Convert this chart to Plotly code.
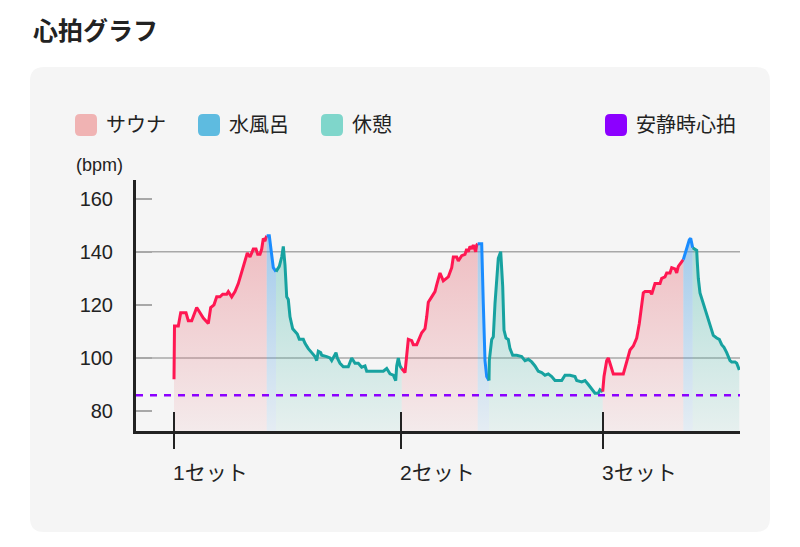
import plotly.graph_objects as go

# ---------------- data ----------------
# x: elapsed time (units of 10 s) from start of set 1, y: heart rate (bpm)
sauna1_x = [0, 0.5, 4.3, 6.7, 12, 14.3, 17.7, 20, 22.7, 26, 29.3, 34.3, 36.7, 40, 42.7, 46, 48.7, 52.7, 54.3, 57.7, 61, 64.3, 67.7, 71, 73.3, 76, 79.3, 82, 83.7, 86, 87.7, 89.3, 91, 92.7]
sauna1_y = [92, 112, 112, 117, 117, 114, 114, 116, 119, 117, 115, 113, 119, 120, 123, 123, 124, 124, 125, 123, 125, 128, 132.5, 137, 139.5, 138, 141, 141, 139, 139, 141, 145, 144, 146]
cold1_x = [92.7, 95.3, 99.3, 102]
cold1_y = [146, 146, 134, 132.5]
rest1_x = [102, 105.3, 107.7, 109.3, 111, 112.7, 114.3, 116, 118.7, 121, 123.3, 125.3, 129.3, 131, 134.3, 137.7, 141, 142.7, 144.3, 146.7, 147.7, 152.7, 156, 157.7, 162, 163.3, 166, 169.3, 174.3, 177.7, 181, 184.3, 187.7, 191, 192.7, 209.3, 212.7, 216, 219.3, 221.7, 222.7, 224.3, 226, 227.7]
rest1_y = [132.5, 134.5, 138, 142, 135, 123, 122, 115.5, 111, 110, 109, 107, 107, 105.5, 103.5, 102, 100.5, 99, 102.5, 102, 101, 100.5, 100, 99, 102, 100, 98, 96.7, 96.7, 100, 98, 98, 96.5, 97, 95, 95, 96, 94, 93.5, 91.5, 97, 100, 97, 96]
sauna2_x = [227.7, 231, 234.3, 237.7, 239.3, 242.7, 247.7, 251, 252.7, 254.3, 257.7, 261, 262.7, 266, 269.3, 274.3, 277.7, 279.3, 282.7, 284.3, 287.7, 291, 292.7, 294.3, 296, 297.7, 299.3, 301.7, 302.7, 303.7]
sauna2_y = [96, 94.5, 107, 106.5, 105, 105, 109.5, 111, 115.5, 121, 123, 125, 127.5, 132, 129, 130.5, 134, 138, 138, 136.5, 138.5, 139, 141, 140, 142, 141, 142.5, 140, 142.5, 143]
cold2_x = [303.7, 307.7, 309.3, 311, 312.7, 315]
cold2_y = [143, 143, 120.5, 99, 93, 91.5]
rest2_x = [315, 315.3, 317.7, 319.3, 321, 322.7, 324.3, 326.7, 328.7, 330, 332, 334.3, 336, 338.7, 342.7, 347.7, 351, 354.3, 357.7, 361, 364.3, 367.7, 371, 374.3, 377.7, 381, 387.7, 391, 396, 401, 402.7, 407.7, 411, 414.3, 417.7, 421, 424.3, 426, 428.7]
rest2_y = [91.5, 99, 107, 108, 120.5, 130.5, 137.5, 140, 127, 110.5, 107.5, 107, 103.5, 101, 101, 100.5, 99, 99.5, 98.5, 97, 95, 94.5, 93.5, 94, 93, 91.5, 91.5, 93.5, 93.5, 93, 91.5, 91, 91.5, 90, 88.5, 86.7, 86.7, 88, 87.3]
sauna3_x = [428.7, 430, 432.7, 434.3, 436, 439.3, 449.3, 452, 456, 459.3, 462.7, 465.3, 467.7, 469.3, 471, 476, 477.7, 479.3, 481, 486, 487.7, 491, 492.7, 496, 497.7, 501, 502.7, 504.3, 506, 507.7, 509.3]
sauna3_y = [87.3, 93, 99, 100, 98, 94, 94, 98, 103, 104.5, 107.5, 113, 119, 124.5, 125, 125, 124, 126, 128, 128, 130, 130.5, 132, 132, 134, 133.5, 132, 134.5, 135.5, 136.5, 137]
cold3_x = [509.3, 513.3, 515.3, 516.7, 517.7, 518.7]
cold3_y = [137, 142, 144.5, 145, 143, 141.5]
rest3_x = [518.7, 521, 522.7, 523.3, 524.3, 526, 529.3, 532.7, 536, 539.3, 542.7, 545.3, 547.7, 550, 552.7, 556, 557.7, 561, 562.7, 565.3]
rest3_y = [141.5, 141, 140.5, 136, 130, 124.5, 120.5, 116, 112, 108.5, 107.5, 107, 105, 104, 102, 99, 98.5, 98.5, 98, 95.5]

resting_hr = 86
set_ticks = [0, 227, 429]
set_labels = ["1セット", "2セット", "3セット"]
y_ticks = [80, 100, 120, 140, 160]
grid_values = [100, 140]
legend_names = ["サウナ", "水風呂", "休憩", "安静時心拍"]
legend_colors = ["#f0b3b3", "#5ebbe0", "#7fd6cb", "#8c00ff"]

# ---------------- style ----------------
W, H = 800, 547
ML, MR, MT, MB = 136, 60, 180, 116
PW, PH = W - ML - MR, H - MT - MB
X_RANGE = [-38, 566]
Y_RANGE = [72.5, 167]
FONT = "Liberation Sans, Noto Sans CJK JP, sans-serif"
TXT = "#222222"

def pxx(px):
    return (px - ML) / PW

def pxy(py):
    return (H - MB - py) / PH

def rrect(x0, y0, x1, y1, r):
    def P(x, y):
        return f"{pxx(x):.5f},{pxy(y):.5f}"
    return (f"M{P(x0 + r, y0)} L{P(x1 - r, y0)} Q{P(x1, y0)} {P(x1, y0 + r)} "
            f"L{P(x1, y1 - r)} Q{P(x1, y1)} {P(x1 - r, y1)} L{P(x0 + r, y1)} "
            f"Q{P(x0, y1)} {P(x0, y1 - r)} L{P(x0, y0 + r)} Q{P(x0, y0)} {P(x0 + r, y0)} Z")

phase_style = {
    "sauna": dict(line="#ff1752", rgb="230,110,120", a0=0.08, a1=0.42),
    "cold": dict(line="#1a8cff", rgb="80,160,225", a0=0.10, a1=0.50),
    "rest": dict(line="#17a2a0", rgb="60,180,165", a0=0.08, a1=0.40),
}

phases = [
    ("sauna", sauna1_x, sauna1_y), ("cold", cold1_x, cold1_y), ("rest", rest1_x, rest1_y),
    ("sauna", sauna2_x, sauna2_y), ("cold", cold2_x, cold2_y), ("rest", rest2_x, rest2_y),
    ("sauna", sauna3_x, sauna3_y), ("cold", cold3_x, cold3_y), ("rest", rest3_x, rest3_y),
]

fig = go.Figure()
for kind, xs, ys in phases:
    st = phase_style[kind]
    fig.add_trace(go.Scatter(
        x=xs, y=ys, mode="lines",
        line=dict(color=st["line"], width=3),
        fill="tozeroy",
        fillgradient=dict(type="vertical", start=Y_RANGE[0], stop=146,
                          colorscale=[[0, f"rgba({st['rgb']},{st['a0']})"],
                                      [1, f"rgba({st['rgb']},{st['a1']})"]]),
        showlegend=False, hoverinfo="skip",
    ))

fig.add_trace(go.Scatter(
    x=X_RANGE, y=[resting_hr, resting_hr], mode="lines",
    line=dict(color="#8c00ff", width=2.5, dash="7px,7px"),
    showlegend=False, hoverinfo="skip",
))

shapes = []
shapes.append(dict(type="path", xref="paper", yref="paper", path=rrect(30, 67, 770, 532, 14),
                   fillcolor="#f5f5f5", line=dict(width=0), layer="below"))
for g in grid_values:
    shapes.append(dict(type="line", xref="paper", yref="y", x0=0, x1=1, y0=g, y1=g,
                       line=dict(color="#a8a8a8", width=1.5), layer="below"))
for t in set_ticks:
    shapes.append(dict(type="line", xref="x", yref="paper", x0=t, x1=t, y0=pxy(449), y1=pxy(412),
                       line=dict(color=TXT, width=2), layer="above"))

annotations = []
annotations.append(dict(text="<b>心拍グラフ</b>", xref="paper", yref="paper", x=pxx(31), y=pxy(31),
                        xanchor="left", yanchor="middle", showarrow=False,
                        font=dict(family=FONT, size=25, color=TXT)))
annotations.append(dict(text="(bpm)", xref="paper", yref="paper", x=pxx(74), y=pxy(165),
                        xanchor="left", yanchor="middle", showarrow=False,
                        font=dict(family=FONT, size=18, color=TXT)))
for t, lab in zip(set_ticks, set_labels):
    annotations.append(dict(text=lab, xref="x", yref="paper", x=t, y=pxy(472),
                            xanchor="left", yanchor="middle", showarrow=False, xshift=-3,
                            font=dict(family=FONT, size=21, color=TXT)))

legend_px = [75, 198, 321, 605]
for lx, name, col in zip(legend_px, legend_names, legend_colors):
    shapes.append(dict(type="path", xref="paper", yref="paper",
                       path=rrect(lx, 114, lx + 22, 136, 5), fillcolor=col, line=dict(width=0)))
    annotations.append(dict(text=name, xref="paper", yref="paper", x=pxx(lx + 29), y=pxy(125),
                            xanchor="left", yanchor="middle", showarrow=False,
                            font=dict(family=FONT, size=20, color=TXT)))

fig.update_layout(
    width=W, height=H, autosize=False,
    margin=dict(l=ML, r=MR, t=MT, b=MB, pad=0),
    paper_bgcolor="white", plot_bgcolor="rgba(0,0,0,0)",
    shapes=shapes, annotations=annotations, showlegend=False,
    xaxis=dict(range=X_RANGE, showgrid=False, zeroline=False, showline=True,
               linecolor=TXT, linewidth=3, tickvals=set_ticks, showticklabels=False, ticks=""),
    yaxis=dict(range=Y_RANGE, showgrid=False, zeroline=False, showline=True,
               linecolor=TXT, linewidth=3, tickvals=y_ticks, ticks="inside", ticklen=16,
               tickwidth=1.5, tickcolor="#a8a8a8", ticklabelstandoff=16,
               tickfont=dict(family=FONT, size=20, color=TXT)),
)

fig.write_html("out.html")
